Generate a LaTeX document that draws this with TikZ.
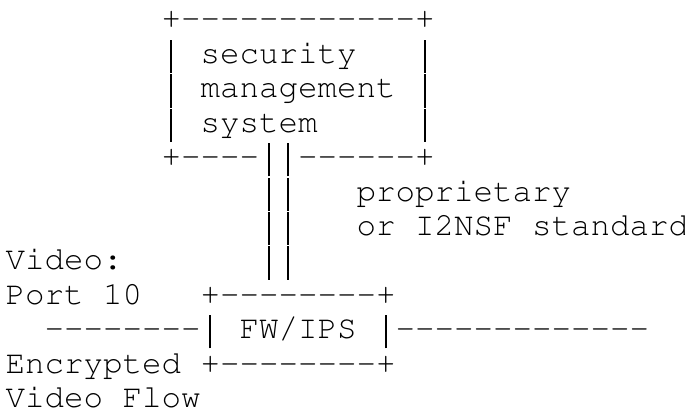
\documentclass[tikz,border=0pt]{standalone}
\usepackage[T1]{fontenc}
\usepackage{courier}
\usepackage{tikz}
\tikzstyle{asciiGrid} = [x = 19.5pt, y = -34.4pt]
\tikzstyle{asciiText} = [anchor = base west, inner sep = 0pt, outer sep = 0pt, font = \ttfamily\fontsize{32.5}{34.4}\selectfont]
\newcommand{\tallBar}{\makebox[0.6em]{\rule[-0.3em]{0.055em}{1.02em}}}
\newcommand{\asciiPiece}[4]{\node [asciiText] (#1) at (#3, #2) {#4};}
\newcommand{\boxSide}[3]{
  \asciiPiece{#1Left}{#2}{8}{\tallBar}
  \asciiPiece{#1}{#2}{10}{#3}
  \asciiPiece{#1Right}{#2}{21}{\tallBar}
}

\begin{document}
\begin{tikzpicture}[asciiGrid]
         \useasboundingbox (-5.55pt, 29pt) rectangle (679.45pt, -383pt);
         % management system box
         \asciiPiece{smsTop}{0}{8}{+-{}-{}-{}-{}-{}-{}-{}-{}-{}-{}-{}-+}
         \boxSide{smsSecurity}{1}{security}
         \boxSide{smsManagement}{2}{management}
         \boxSide{smsSystem}{3}{system}
         \asciiPiece{smsBottom}{4}{8}{+-{}-{}-{}-\tallBar\tallBar-{}-{}-{}-{}-{}-+}

         % interface to the firewall
         \foreach \row in {5,6,7} {
           \asciiPiece{link\row}{\row}{13}{\tallBar\tallBar}
         }
         \asciiPiece{linkLabel}{5}{18}{proprietary}
         \asciiPiece{linkLabelTwo}{6}{18}{or I2NSF standard}

         % firewall box and video flow
         \asciiPiece{flowVideo}{7}{0}{Video:}
         \asciiPiece{flowPort}{8}{0}{Port 10}
         \asciiPiece{fwTop}{8}{10}{+-{}-{}-{}-{}-{}-{}-{}-+}
         \asciiPiece{fwMiddle}{9}{2}{-{}-{}-{}-{}-{}-{}-{}-\tallBar{} FW/IPS \tallBar-{}-{}-{}-{}-{}-{}-{}-{}-{}-{}-{}-{}-}
         \asciiPiece{flowEncrypted}{10}{0}{Encrypted}
         \asciiPiece{fwBottom}{10}{10}{+-{}-{}-{}-{}-{}-{}-{}-+}
         \asciiPiece{flowName}{11}{0}{Video Flow}
       \end{tikzpicture}
\end{document}
